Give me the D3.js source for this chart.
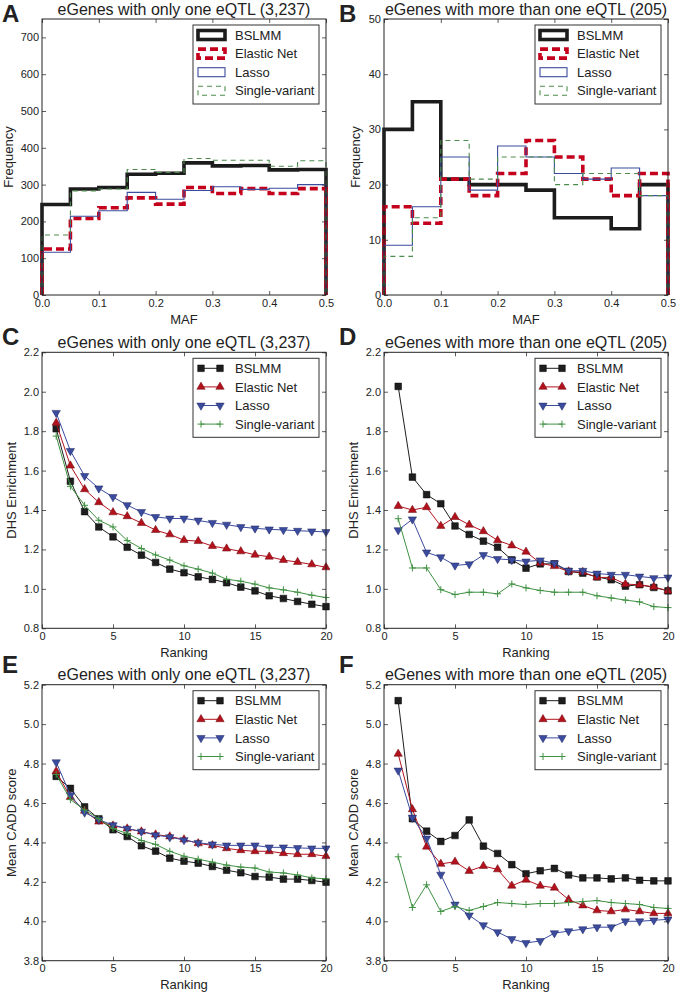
<!DOCTYPE html>
<html><head><meta charset="utf-8">
<script src="https://cdn.jsdelivr.net/npm/d3@7"></script>
<style>
body{margin:0;background:#fff}
svg{display:block}
text{font-family:"Liberation Sans",Arial,Helvetica,sans-serif;fill:#222}
</style>
</head><body>
<svg id="chart" width="677" height="992"></svg>
<script>
// ---------- data ----------
const seriesNames = ["BSLMM", "Elastic Net", "Lasso", "Single-variant"];

const mafEdges = [0, 0.05, 0.1, 0.15, 0.2, 0.25, 0.3, 0.35, 0.4, 0.45, 0.5];
const mafTicks = [0, 0.1, 0.2, 0.3, 0.4, 0.5];

// Panel A: eGenes with only one eQTL (3,237) – MAF histogram counts
const histA_bslmm  = [246, 288, 292, 328, 331, 359, 351, 352, 340, 341];
const histA_enet   = [125, 208, 237, 264, 247, 292, 276, 289, 276, 289];
const histA_lasso  = [116, 214, 229, 279, 260, 284, 294, 287, 290, 300];
const histA_single = [163, 283, 288, 341, 333, 371, 366, 366, 350, 365];
const ticksA_y = [0, 100, 200, 300, 400, 500, 600, 700];

// Panel B: eGenes with more than one eQTL (205)
const histB_bslmm  = [30, 35, 21, 20, 20, 19, 14, 14, 12, 20];
const histB_enet   = [16, 13, 21, 18, 22, 28, 25, 21, 18, 22];
const histB_lasso  = [9, 16, 25, 19, 27, 25, 22, 21, 23, 18];
const histB_single = [7, 14, 28, 21, 25, 25, 20, 22, 22, 18];
const ticksB_y = [0, 10, 20, 30, 40, 50];

const rankings = [1,2,3,4,5,6,7,8,9,10,11,12,13,14,15,16,17,18,19,20];
const rankTicks = [0, 5, 10, 15, 20];

// Panel C: DHS enrichment, one eQTL
const dhsC_bslmm  = [1.812,1.546,1.392,1.314,1.264,1.211,1.171,1.134,1.100,1.082,1.061,1.048,1.031,1.009,0.990,0.965,0.951,0.936,0.922,0.910];
const dhsC_enet   = [1.842,1.625,1.505,1.439,1.388,1.368,1.334,1.298,1.276,1.247,1.242,1.217,1.204,1.190,1.173,1.163,1.146,1.136,1.124,1.109];
const dhsC_lasso  = [1.893,1.700,1.573,1.510,1.466,1.425,1.390,1.365,1.357,1.357,1.347,1.335,1.326,1.314,1.307,1.302,1.299,1.295,1.292,1.289];
const dhsC_single = [1.775,1.520,1.424,1.348,1.314,1.245,1.205,1.172,1.146,1.117,1.100,1.080,1.049,1.039,1.024,1.005,0.995,0.983,0.968,0.956];

// Panel D: DHS enrichment, more than one eQTL
const dhsD_bslmm  = [2.027,1.567,1.478,1.432,1.319,1.276,1.242,1.211,1.147,1.105,1.127,1.127,1.088,1.080,1.061,1.046,1.014,1.021,1.007,0.990];
const dhsD_enet   = [1.420,1.400,1.414,1.319,1.364,1.325,1.292,1.246,1.220,1.188,1.131,1.115,1.088,1.085,1.058,1.058,1.024,1.021,1.010,0.990];
const dhsD_lasso  = [1.298,1.353,1.185,1.161,1.119,1.125,1.172,1.152,1.147,1.139,1.145,1.130,1.092,1.092,1.078,1.072,1.072,1.063,1.055,1.058];
const dhsD_single = [1.356,1.106,1.106,0.996,0.971,0.983,0.983,0.975,1.025,1.005,0.992,0.983,0.983,0.983,0.965,0.954,0.943,0.934,0.910,0.905];
const dhsTicks = [0.8, 1.0, 1.2, 1.4, 1.6, 1.8, 2.0, 2.2];

// Panel E: mean CADD score, one eQTL
const caddE_bslmm  = [4.735,4.674,4.580,4.520,4.464,4.430,4.383,4.356,4.320,4.305,4.295,4.278,4.259,4.246,4.227,4.224,4.214,4.214,4.207,4.198];
const caddE_enet   = [4.761,4.630,4.560,4.505,4.485,4.470,4.455,4.440,4.430,4.415,4.395,4.385,4.370,4.360,4.355,4.355,4.345,4.340,4.340,4.330];
const caddE_lasso  = [4.807,4.640,4.552,4.515,4.488,4.470,4.455,4.437,4.427,4.412,4.398,4.390,4.385,4.385,4.385,4.375,4.375,4.372,4.370,4.370];
const caddE_single = [4.745,4.617,4.565,4.520,4.470,4.445,4.410,4.390,4.355,4.330,4.315,4.300,4.285,4.275,4.270,4.250,4.245,4.235,4.220,4.215];

// Panel F: mean CADD score, more than one eQTL
const caddF_bslmm  = [5.119,4.520,4.457,4.405,4.435,4.514,4.381,4.344,4.287,4.241,4.256,4.268,4.235,4.220,4.220,4.215,4.220,4.208,4.205,4.205];
const caddF_enet   = [4.849,4.568,4.378,4.291,4.302,4.255,4.280,4.263,4.180,4.210,4.180,4.170,4.110,4.080,4.055,4.050,4.060,4.050,4.040,4.040];
const caddF_lasso  = [4.765,4.526,4.420,4.237,4.085,4.030,3.980,3.945,3.910,3.890,3.900,3.940,3.950,3.960,3.970,3.970,4.000,4.000,4.005,4.010];
const caddF_single = [4.327,4.070,4.185,4.050,4.075,4.055,4.075,4.095,4.090,4.085,4.090,4.090,4.095,4.100,4.105,4.095,4.090,4.085,4.070,4.065];
const caddTicks = [3.8, 4.0, 4.2, 4.4, 4.6, 4.8, 5.0, 5.2];

// ---------- styles ----------
const histStyles = [
  {stroke:"#1c1c1c", width:3.6, dash:null},
  {stroke:"#c4001c", width:3.6, dash:"8,4"},
  {stroke:"#3b4c9c", width:1.1, dash:null},
  {stroke:"#4c8c4c", width:1.1, dash:"5,4"}
];
const lineStyles = [
  {color:"#1e1e1e", edge:"#000", marker:"square"},
  {color:"#b3121d", edge:"#6a0a10", marker:"tri-up"},
  {color:"#3b4b9e", edge:"#1e2760", marker:"tri-down"},
  {color:"#3f9142", edge:"#3f9142", marker:"plus"}
];

// ---------- layout ----------
const colX = [42, 384];
const rowY = [19, 352.3, 684.7];
const pw = 284, ph = 276;

const panels = [
  {letter:"A", col:0, row:0, type:"hist", title:"eGenes with only one eQTL (3,237)",
   series:[histA_bslmm,histA_enet,histA_lasso,histA_single], ydom:[0,750], yticks:ticksA_y,
   yfmt:d3.format("d"), ylabel:"Frequency", xlabel:"MAF", ylabX:12.5, letterY:21.5},
  {letter:"B", col:1, row:0, type:"hist", title:"eGenes with more than one eQTL (205)",
   series:[histB_bslmm,histB_enet,histB_lasso,histB_single], ydom:[0,50], yticks:ticksB_y,
   yfmt:d3.format("d"), ylabel:"Frequency", xlabel:"MAF", ylabX:359.5, letterY:21.5},
  {letter:"C", col:0, row:1, type:"line", title:"eGenes with only one eQTL (3,237)",
   series:[dhsC_bslmm,dhsC_enet,dhsC_lasso,dhsC_single], ydom:[0.8,2.2], yticks:dhsTicks,
   yfmt:d3.format(".1f"), ylabel:"DHS Enrichment", xlabel:"Ranking", ylabX:16.3, letterY:345},
  {letter:"D", col:1, row:1, type:"line", title:"eGenes with more than one eQTL (205)",
   series:[dhsD_bslmm,dhsD_enet,dhsD_lasso,dhsD_single], ydom:[0.8,2.2], yticks:dhsTicks,
   yfmt:d3.format(".1f"), ylabel:"DHS Enrichment", xlabel:"Ranking", ylabX:358, letterY:345},
  {letter:"E", col:0, row:2, type:"line", title:"eGenes with only one eQTL (3,237)",
   series:[caddE_bslmm,caddE_enet,caddE_lasso,caddE_single], ydom:[3.8,5.2], yticks:caddTicks,
   yfmt:d3.format(".1f"), ylabel:"Mean CADD score", xlabel:"Ranking", ylabX:16, letterY:673},
  {letter:"F", col:1, row:2, type:"line", title:"eGenes with more than one eQTL (205)",
   series:[caddF_bslmm,caddF_enet,caddF_lasso,caddF_single], ydom:[3.8,5.2], yticks:caddTicks,
   yfmt:d3.format(".1f"), ylabel:"Mean CADD score", xlabel:"Ranking", ylabX:358, letterY:673}
];

const svg = d3.select("#chart");

function marker(sel, kind, st) {
  if (kind === "square") {
    sel.append("path").attr("d", d3.symbol(d3.symbolSquare, 44)())
      .attr("fill", st.color).attr("stroke", st.edge).attr("stroke-width", 0.5);
  } else if (kind === "tri-up") {
    sel.append("path").attr("d", d3.symbol(d3.symbolTriangle, 30)())
      .attr("fill", st.color).attr("stroke", st.edge).attr("stroke-width", 0.5);
  } else if (kind === "tri-down") {
    sel.append("path").attr("d", d3.symbol(d3.symbolTriangle, 30)())
      .attr("transform", "rotate(180)")
      .attr("fill", st.color).attr("stroke", st.edge).attr("stroke-width", 0.5);
  } else {
    sel.append("path").attr("d", "M-3.5,0H3.5M0,-3.5V3.5")
      .attr("fill", "none").attr("stroke", st.color).attr("stroke-width", 1);
  }
}

panels.forEach(p => {
  const x0 = colX[p.col], y0 = rowY[p.row];
  const g = svg.append("g").attr("transform", `translate(${x0},${y0})`);
  const x = p.type === "hist" ? d3.scaleLinear().domain([0, 0.5]).range([0, pw])
                              : d3.scaleLinear().domain([0, 20]).range([0, pw]);
  const y = d3.scaleLinear().domain(p.ydom).range([ph, 0]);
  const xt = p.type === "hist" ? mafTicks : rankTicks;
  const xfmt = p.type === "hist" ? d3.format(".1f") : d3.format("d");

  // data marks
  const clip = "clip" + p.letter;
  g.append("clipPath").attr("id", clip).append("rect")
    .attr("x", -4).attr("y", 0).attr("width", pw + 8).attr("height", ph + 2);
  const plot = g.append("g").attr("clip-path", `url(#${clip})`);

  if (p.type === "hist") {
    p.series.forEach((vals, i) => {
      const st = histStyles[i];
      let d = `M${x(mafEdges[0])},${y(0)}`;
      vals.forEach((v, k) => { d += `V${y(v)}H${x(mafEdges[k + 1])}`; });
      d += `V${y(0)}`;
      plot.append("path").attr("d", d).attr("fill", "none")
        .attr("stroke", st.stroke).attr("stroke-width", st.width)
        .attr("stroke-dasharray", st.dash).attr("stroke-linejoin", "miter");
    });
  } else {
    p.series.forEach((vals, i) => {
      const st = lineStyles[i];
      const pts = rankings.map((r, k) => [r, vals[k]]);
      plot.append("path").datum(pts)
        .attr("d", d3.line().x(d => x(d[0])).y(d => y(d[1])))
        .attr("fill", "none").attr("stroke", st.color).attr("stroke-width", 1);
      pts.forEach(d => {
        const m = plot.append("g").attr("transform", `translate(${x(d[0])},${y(d[1])})`);
        marker(m, st.marker, st);
      });
    });
  }

  // axes (inward ticks on all four sides)
  const axB = d3.axisBottom(x).tickValues(xt).tickFormat(xfmt).tickSizeInner(-4).tickSizeOuter(0).tickPadding(4);
  const axT = d3.axisTop(x).tickValues(xt).tickFormat("").tickSizeInner(-4).tickSizeOuter(0);
  const axL = d3.axisLeft(y).tickValues(p.yticks).tickFormat(p.yfmt).tickSizeInner(-4).tickSizeOuter(0).tickPadding(3);
  const axR = d3.axisRight(y).tickValues(p.yticks).tickFormat("").tickSizeInner(-4).tickSizeOuter(0);
  const styleAxis = s => {
    s.select(".domain").remove();
    s.selectAll(".tick line").attr("stroke", "#333").attr("stroke-width", 0.8);
    s.selectAll(".tick text").style("font-family", '"Liberation Sans",Arial,sans-serif')
      .style("font-size", "11px").attr("fill", "#222");
  };
  g.append("g").attr("transform", `translate(0,${ph})`).call(axB).call(styleAxis);
  g.append("g").call(axT).call(styleAxis);
  g.append("g").call(axL).call(styleAxis);
  g.append("g").attr("transform", `translate(${pw},0)`).call(axR).call(styleAxis);

  g.append("rect").attr("width", pw).attr("height", ph)
    .attr("fill", "none").attr("stroke", "#222").attr("stroke-width", 1);

  // legend
  const lg = g.append("g");
  lg.append("rect").attr("x", 151).attr("y", 6).attr("width", 126).attr("height", 79)
    .attr("fill", "#fff").attr("stroke", "#333").attr("stroke-width", 1);
  const rowYs = [16, 34.6, 53.2, 71.8];
  seriesNames.forEach((name, i) => {
    const ry = rowYs[i];
    if (p.type === "hist") {
      const st = histStyles[i];
      lg.append("rect").attr("x", 156).attr("y", ry - 4.5).attr("width", 27).attr("height", 9)
        .attr("fill", "none").attr("stroke", st.stroke).attr("stroke-width", st.width)
        .attr("stroke-dasharray", st.dash);
    } else {
      const st = lineStyles[i];
      lg.append("line").attr("x1", 159).attr("x2", 178).attr("y1", ry).attr("y2", ry)
        .attr("stroke", st.color).attr("stroke-width", 1);
      [159, 178].forEach(mx => {
        const m = lg.append("g").attr("transform", `translate(${mx},${ry})`);
        marker(m, st.marker, st);
      });
    }
    lg.append("text").attr("x", 193).attr("y", ry).attr("dy", "0.36em")
      .style("font-size", "13px").text(name);
  });

  // titles & labels
  svg.append("text").attr("x", x0 + pw / 2).attr("y", y0 - 4.5).attr("text-anchor", "middle")
    .style("font-size", "16px").text(p.title);
  svg.append("text").attr("x", x0 + pw / 2).attr("y", y0 + ph + 28.5).attr("text-anchor", "middle")
    .style("font-size", "13px").text(p.xlabel);
  svg.append("text").attr("transform", `translate(${p.ylabX},${y0 + ph / 2}) rotate(-90)`)
    .attr("text-anchor", "middle").style("font-size", "13px").text(p.ylabel);
  svg.append("text").attr("x", p.col === 0 ? 2 : 339).attr("y", p.letterY)
    .style("font-size", "24px").style("font-weight", "bold").attr("fill", "#111").text(p.letter);
});
</script>
</body></html>
